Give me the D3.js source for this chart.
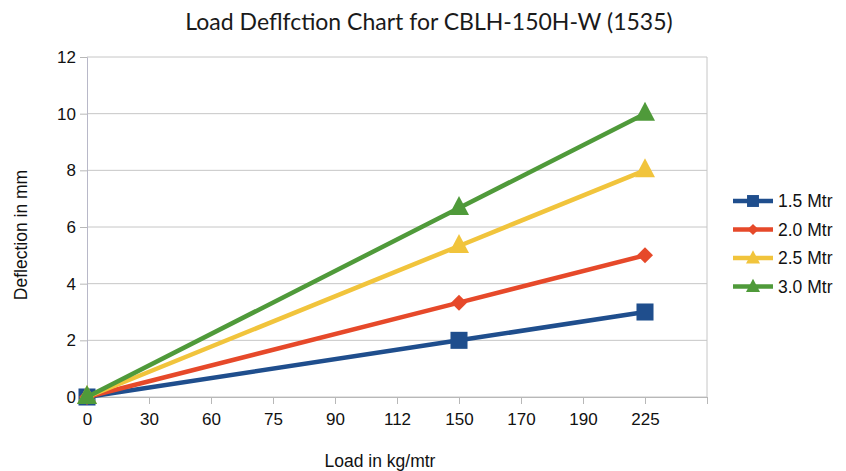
<!DOCTYPE html>
<html>
<head>
<meta charset="utf-8">
<script src="https://cdn.jsdelivr.net/npm/d3@7"></script>
<style>
  body { margin: 0; background: #fff; }
  svg { display: block; }
</style>
</head>
<body>
<svg id="chart" width="846" height="471"></svg>
<script>
// Load categories along the x axis (kg/mtr)
const loads = ["0", "30", "60", "75", "90", "112", "150", "170", "190", "225"];
// Deflection (mm) measured at loads 0, 150 and 225 for each span
const measuredLoads = ["0", "150", "225"];
const span15 = [0, 2, 3];
const span20 = [0, 3.33, 5];
const span25 = [0, 5.33, 8];
const span30 = [0, 6.67, 10];
const seriesNames = ["1.5 Mtr", "2.0 Mtr", "2.5 Mtr", "3.0 Mtr"];
const yTicks = [0, 2, 4, 6, 8, 10, 12];

const series = [
  { name: seriesNames[0], values: span15, color: "#1f4e8d", marker: "square" },
  { name: seriesNames[1], values: span20, color: "#e6492a", marker: "diamond" },
  { name: seriesNames[2], values: span25, color: "#f1c43c", marker: "triangle" },
  { name: seriesNames[3], values: span30, color: "#4f9a3a", marker: "triangle" }
];

const svg = d3.select("#chart");
const plotLeft = 87, plotRight = 707, plotTop = 57, plotBottom = 397;

// Category positions: one slot per load plus an empty slot at the end
const x = d3.scaleLinear().domain([0, loads.length]).range([plotLeft, plotRight]);
const xPos = c => x(loads.indexOf(c));
const y = d3.scaleLinear().domain([0, 12]).range([plotBottom, plotTop]);

// Horizontal gridlines
svg.append("g").selectAll("line").data(yTicks).join("line")
  .attr("x1", plotLeft).attr("x2", plotRight)
  .attr("y1", d => y(d)).attr("y2", d => y(d))
  .attr("stroke", "#c6c6c6").attr("stroke-width", 1);

// Right border of plot area
svg.append("line").attr("x1", plotRight).attr("x2", plotRight)
  .attr("y1", plotTop).attr("y2", plotBottom)
  .attr("stroke", "#c6c6c6");

// Y axis
const yAxis = d3.axisLeft(y).tickValues(yTicks).tickSize(7).tickPadding(4);
const gy = svg.append("g").attr("transform", `translate(${plotLeft},0)`).call(yAxis);
gy.select(".domain").attr("stroke", "#b8b8c8");
gy.selectAll(".tick line").attr("stroke", "#b8b8b8");
gy.selectAll("text").attr("font-family", "Liberation Sans, Arial, sans-serif")
  .attr("font-size", 17).attr("fill", "#111");

// X axis
const xAxis = d3.axisBottom(x)
  .tickValues(d3.range(loads.length + 1))
  .tickFormat(i => loads[i] || "")
  .tickSize(7).tickSizeOuter(0).tickPadding(9);
const gx = svg.append("g").attr("transform", `translate(0,${plotBottom})`).call(xAxis);
gx.select(".domain").attr("stroke", "#b8b8b8");
gx.selectAll(".tick line").attr("stroke", "#b8b8b8");
gx.selectAll("text").attr("font-family", "Liberation Sans, Arial, sans-serif")
  .attr("font-size", 17).attr("fill", "#111");

// Marker shapes
function markerPath(type) {
  if (type === "square") return d3.symbol(d3.symbolSquare, 290)();
  if (type === "diamond") return "M0,-8L8,0L0,8L-8,0Z";
  return "M0,-11L10,8L-10,8Z";
}

const line = d3.line().x(d => xPos(d.load)).y(d => y(d.v));

series.forEach(s => {
  const pts = s.values.map((v, i) => ({ load: measuredLoads[i], v }));
  svg.append("path").datum(pts).attr("d", line)
    .attr("fill", "none").attr("stroke", s.color).attr("stroke-width", 4.5)
    .attr("stroke-linejoin", "round");
  svg.append("g").selectAll("path").data(pts).join("path")
    .attr("transform", d => `translate(${xPos(d.load)},${y(d.v) + (s.marker === "triangle" ? -1 : 0)})`)
    .attr("d", markerPath(s.marker)).attr("fill", s.color);
});

// Title
svg.append("text").attr("x", 429).attr("y", 30).attr("text-anchor", "middle")
  .attr("font-family", "Lato, 'Open Sans', sans-serif").attr("font-size", 23)
  .attr("font-weight", 400).attr("fill", "#1a1a1a")
  .text("Load Deflfction Chart for CBLH-150H-W (1535)");

// Axis titles
svg.append("text").attr("x", 380).attr("y", 467).attr("text-anchor", "middle")
  .attr("font-family", "Liberation Sans, Arial, sans-serif").attr("font-size", 17.5).attr("fill", "#111")
  .text("Load in kg/mtr");
svg.append("text").attr("transform", "translate(27,235) rotate(-90)").attr("text-anchor", "middle")
  .attr("font-family", "Liberation Sans, Arial, sans-serif").attr("font-size", 17.5).attr("fill", "#111")
  .text("Deflection in mm");

// Legend
const lg = svg.append("g").attr("transform", "translate(733,201)");
const row = lg.selectAll("g").data(series).join("g")
  .attr("transform", (d, i) => `translate(0,${i * 28.5})`);
row.append("line").attr("x1", 0).attr("x2", 40).attr("y1", 0).attr("y2", 0)
  .attr("stroke", d => d.color).attr("stroke-width", 4.5);
row.append("path").attr("transform", "translate(20,0) scale(0.7)")
  .attr("d", d => markerPath(d.marker)).attr("fill", d => d.color);
row.append("text").attr("x", 45).attr("y", 6)
  .attr("font-family", "Liberation Sans, Arial, sans-serif").attr("font-size", 17.5).attr("fill", "#111")
  .text(d => d.name);
</script>
</body>
</html>
